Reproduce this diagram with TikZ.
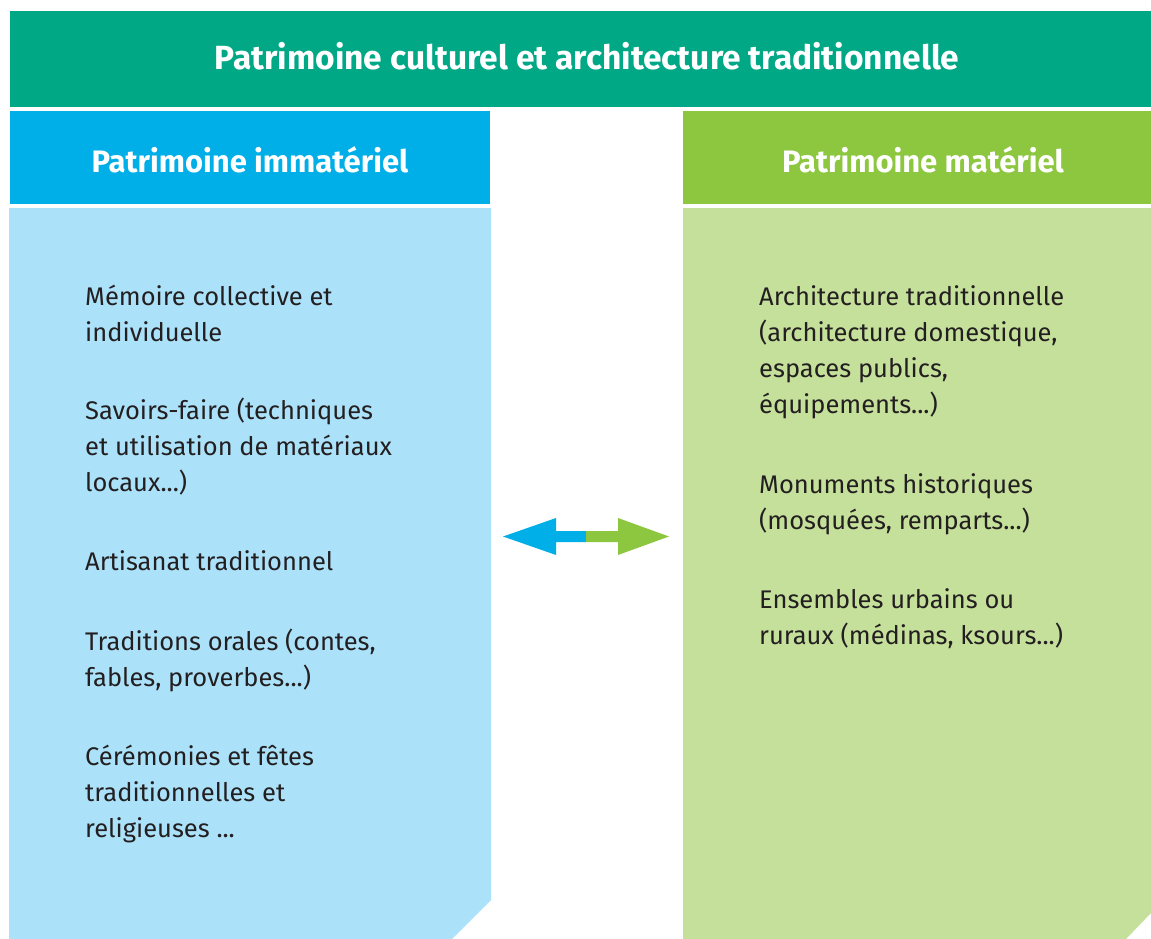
\documentclass[tikz,border=0pt]{standalone}
\usepackage{fontspec}
\setmainfont{Fira Sans}
\definecolor{banner}{HTML}{00A886}
\definecolor{bluehead}{HTML}{00AEE8}
\definecolor{bluebody}{HTML}{ABE2FA}
\definecolor{greenhead}{HTML}{8DC63F}
\definecolor{greenbody}{HTML}{C5E09B}
\definecolor{txt}{HTML}{231F20}
\begin{document}
\begin{tikzpicture}[x=1pt,y=-1pt,
  titletext/.style={text=white,font=\fontsize{31}{36}\selectfont\bfseries,inner sep=0pt,anchor=base},
  itemtext/.style={text=txt,font=\fontsize{25.5}{36}\selectfont,inner sep=0pt,anchor=base west,align=left}]
\useasboundingbox (0,0) rectangle (1151,939);
% banner
\fill[banner] (10,11) rectangle (1151,107);
\node[titletext,font=\fontsize{33.5}{38}\selectfont\bfseries] (title) at (587,70) {Patrimoine culturel et architecture traditionnelle};
% left column
\fill[bluehead] (10,111) rectangle (490,204);
\node[titletext] (lhead) at (250,172) {Patrimoine immatériel};
\fill[bluebody] (9,208) -- (491,208) -- (491,900) -- (452,939) -- (9,939) -- cycle;
% right column
\fill[greenhead] (683,111) rectangle (1151,204);
\node[titletext] (rhead) at (923,172) {Patrimoine matériel};
\fill[greenbody] (683,208) -- (1151,208) -- (1151,913) -- (1126,939) -- (683,939) -- cycle;
% left items (anchored at the baseline of their last line)
\node[itemtext] (l1) at (85,341.7) {Mémoire collective et\\individuelle};
\node[itemtext] (l2) at (85,491.7) {Savoirs-faire (techniques\\et utilisation de matériaux\\locaux...)};
\node[itemtext] (l3) at (85,570) {Artisanat traditionnel};
\node[itemtext] (l4) at (85,686) {Traditions orales (contes,\\fables, proverbes...)};
\node[itemtext] (l5) at (85,837) {Cérémonies et fêtes\\traditionnelles et\\religieuses ...};
% right items
\node[itemtext] (r1) at (759,413.5) {Architecture traditionnelle\\(architecture domestique,\\espaces publics,\\équipements...)};
\node[itemtext] (r2) at (759,529) {Monuments historiques\\(mosquées, remparts...)};
\node[itemtext] (r3) at (759,644) {Ensembles urbains ou\\ruraux (médinas, ksours...)};
% double arrow
\coordinate (arrL) at (503,536.5);
\coordinate (arrM) at (586,536.5);
\coordinate (arrR) at (669,536.5);
\fill[bluehead] (arrL) -- ([xshift=53,yshift=-18.5]arrL) -- ([xshift=53,yshift=-5.5]arrL) -- ([yshift=-5.5]arrM) -- ([yshift=5.5]arrM) -- ([xshift=53,yshift=5.5]arrL) -- ([xshift=53,yshift=18.5]arrL) -- cycle;
\fill[greenhead] (arrR) -- ([xshift=-51,yshift=-18.5]arrR) -- ([xshift=-51,yshift=-5.5]arrR) -- ([yshift=-5.5]arrM) -- ([yshift=5.5]arrM) -- ([xshift=-51,yshift=5.5]arrR) -- ([xshift=-51,yshift=18.5]arrR) -- cycle;
\end{tikzpicture}
\end{document}
